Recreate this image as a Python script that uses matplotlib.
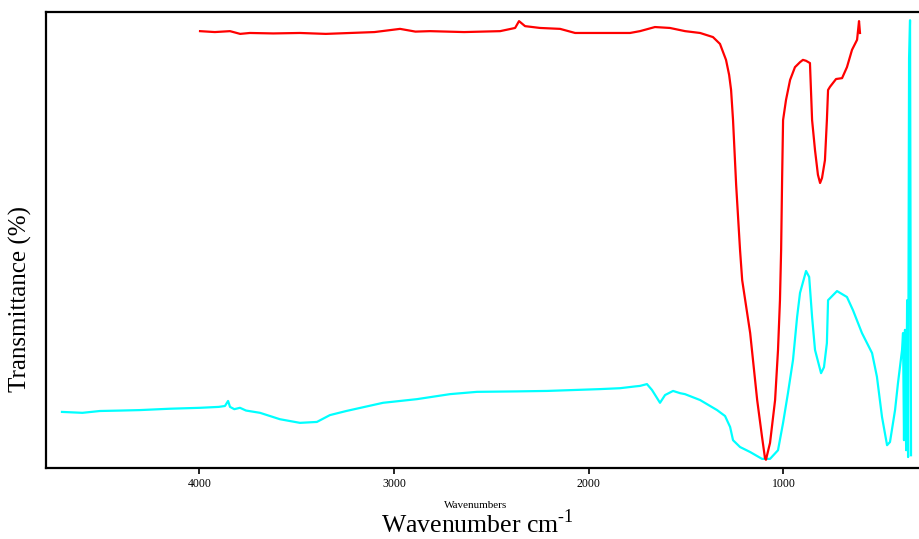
import matplotlib
matplotlib.use("Agg")
import matplotlib.pyplot as plt

plt.rcParams["font.family"] = ["Liberation Serif", "DejaVu Serif"]
plt.rcParams["mathtext.fontset"] = "custom"
plt.rcParams["mathtext.rm"] = "Liberation Serif"

# Red spectrum (wavenumber, transmittance)
red_wn = [3996, 3920, 3842, 3790, 3740, 3620, 3483, 3350, 3225, 3100, 2969, 2890,
          2815, 2640, 2455, 2378, 2358, 2327, 2250, 2147, 2070, 1945, 1788, 1737,
          1660, 1583, 1505, 1428, 1362, 1326, 1295, 1279, 1269, 1259, 1243, 1223,
          1212, 1171, 1135, 1110, 1095, 1090, 1069, 1043, 1028, 1018, 1012, 1007,
          1002, 987, 966, 941, 915, 900, 884, 864, 853, 838, 823, 812, 802, 787,
          777, 771, 761, 730, 699, 674, 648, 622, 612, 607]
red_t = [95.8, 95.6, 95.8, 95.2, 95.4, 95.3, 95.4, 95.2, 95.4, 95.6, 96.3, 95.7,
         95.8, 95.6, 95.8, 96.5, 98.0, 96.9, 96.5, 96.3, 95.4, 95.4, 95.4, 95.8,
         96.7, 96.5, 95.8, 95.4, 94.5, 93.0, 89.5, 86.2, 82.9, 76.3, 62.1, 47.8,
         41.2, 29.6, 14.9, 6.8, 2.2, 1.8, 5.5, 14.9, 25.9, 36.8, 47.8, 63.2,
         76.3, 80.7, 85.1, 87.9, 89.0, 89.5, 89.3, 88.8, 76.3, 69.7, 64.3, 62.5,
         63.6, 67.5, 76.3, 82.9, 83.6, 85.3, 85.5, 87.9, 91.7, 93.9, 98.0, 95.4]

# Cyan spectrum (wavenumber, transmittance)
cyan_wn = [4705, 4600, 4510, 4400, 4305, 4150, 3996, 3900, 3868, 3852, 3842, 3820,
           3791, 3760, 3688, 3586, 3483, 3396, 3329, 3245, 3056, 2882, 2712,
           2574, 2368, 2214, 1942, 1839, 1760, 1737, 1701, 1675, 1634, 1608, 1567,
           1530, 1506, 1428, 1341, 1300, 1274, 1259, 1223, 1171, 1110, 1069, 1028,
           1002, 977, 951, 930, 915, 884, 868, 853, 838, 807, 792, 777, 771, 725,
           674, 643, 597, 545, 520, 494, 468, 453, 427, 412, 391, 386, 381, 376,
           370, 365, 360, 355, 350, 345]
cyan_t = [12.3, 12.1, 12.5, 12.6, 12.7, 13.0, 13.2, 13.4, 13.6, 14.7, 13.4, 12.9,
          13.2, 12.6, 12.1, 10.7, 9.9, 10.1, 11.6, 12.5, 14.3, 15.1, 16.2,
          16.7, 16.8, 16.9, 17.3, 17.5, 17.9, 18.0, 18.4, 17.1, 14.3, 16.0, 16.9,
          16.4, 16.2, 14.9, 12.7, 11.4, 9.0, 6.1, 4.6, 3.5, 2.0, 2.0, 3.9,
          9.9, 16.4, 23.7, 33.1, 38.4, 43.2, 41.9, 33.1, 25.9, 20.8, 22.1, 27.4,
          36.8, 38.8, 37.5, 34.6, 29.6, 25.2, 20.0, 11.2, 5.0, 5.7, 12.7, 18.6,
          25.9, 29.6, 6.1, 30.3, 3.9, 36.8, 2.4, 89.9, 98.2, 2.8]

xticks = [4000, 3000, 2000, 1000]

fig = plt.figure(figsize=(9.19, 5.39), dpi=100)
ax = fig.add_axes([46 / 919, 71 / 539, 1 - 46 / 919, 456 / 539])

ax.plot(cyan_wn, cyan_t, color="#00ffff", lw=1.6)
ax.plot(red_wn, red_t, color="#ff0000", lw=1.6)

ax.set_xlim(4787, 304)
ax.set_ylim(0, 100)
ax.set_xticks(xticks)
ax.set_xticklabels([str(t) for t in xticks], fontsize=8.5)
ax.set_yticks([])
ax.tick_params(axis="x", length=4, width=1.2, pad=3)
ax.spines["right"].set_visible(False)
for s in ["left", "top", "bottom"]:
    ax.spines[s].set_linewidth(1.6)

fig.text(476 / 919, 1 - 506 / 539, "Wavenumbers", fontsize=8, ha="center", va="center")
fig.text(477 / 919, 1 - 524 / 539, r"Wavenumber cm$^{\text{-1}}$", fontsize=18.5,
         ha="center", va="center")
fig.text(20 / 919, 1 - 299 / 539, "Transmittance (%)", fontsize=18, rotation=90,
         ha="center", va="center")

fig.savefig("out.png", dpi=100)
